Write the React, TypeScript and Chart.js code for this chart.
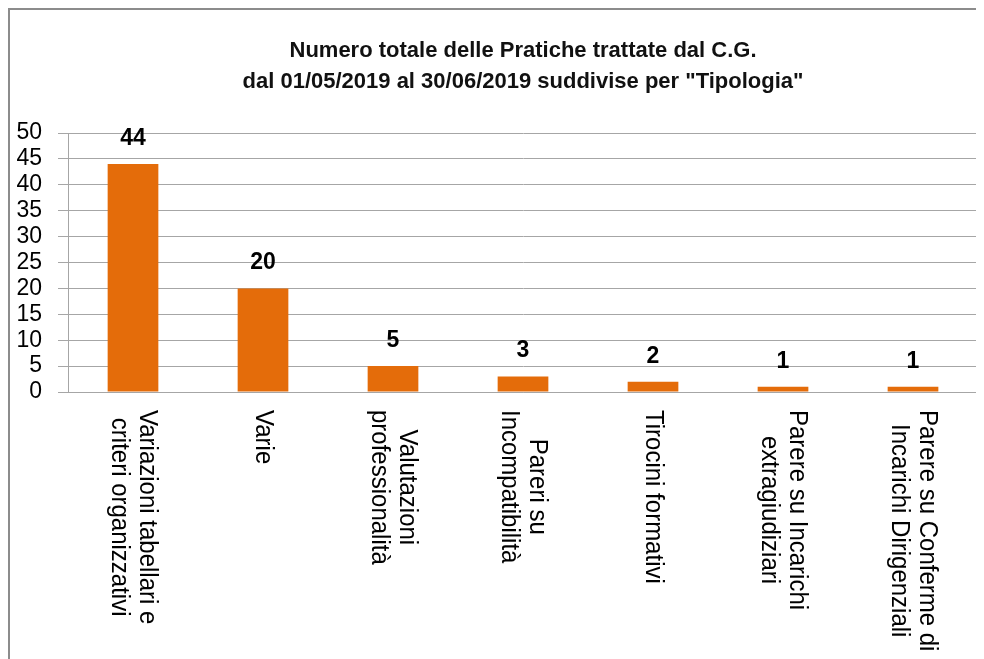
import React, { useEffect, useRef } from "react";
import { Chart, registerables } from "chart.js";

Chart.register(...registerables);

const categories: string[][] = [
  ["Variazioni tabellari e", "criteri organizzativi"],
  ["Varie"],
  ["Valutazioni", "professionalità"],
  ["Pareri su", "Incompatibilità"],
  ["Tirocini formativi"],
  ["Parere su Incarichi", "extragiudiziari"],
  ["Parere su Conferme di", "Incarichi Dirigenziali"],
];
const values = [44, 20, 5, 3, 2, 1, 1];
const titleLines = [
  "Numero totale delle Pratiche trattate dal C.G.",
  'dal 01/05/2019 al 30/06/2019 suddivise per "Tipologia"',
];
const yMin = 0;
const yMax = 50;
const yStep = 5;

const W = 972;
const H = 649;

export default function App() {
  const ref = useRef<HTMLCanvasElement | null>(null);

  useEffect(() => {
    if (!ref.current) return;

    const customDraw = {
      id: "customDraw",
      afterDraw(chart: any) {
        const ctx = chart.ctx as CanvasRenderingContext2D;
        const area = chart.chartArea;
        const xs = chart.scales.x;
        ctx.save();
        // Title
        ctx.fillStyle = "#111";
        ctx.font = 'bold 22px "Liberation Sans", sans-serif';
        ctx.textAlign = "center";
        ctx.textBaseline = "alphabetic";
        const cx = (area.left + area.right) / 2;
        ctx.fillText(titleLines[0], cx, 47);
        ctx.fillText(titleLines[1], cx, 78);

        // Data labels
        const meta = chart.getDatasetMeta(0);
        ctx.font = 'bold 23px "Liberation Sans", sans-serif';
        ctx.fillStyle = "#000";
        meta.data.forEach((el: any, i: number) => {
          ctx.fillText(String(values[i]), el.x, el.y - 19);
        });

        // Rotated category labels (clockwise)
        ctx.font = '24px "Liberation Sans", sans-serif';
        ctx.textAlign = "center";
        ctx.textBaseline = "middle";
        const stretch = 1.1;
        const lineH = 28;
        const top = area.bottom + 18;
        categories.forEach((lines, i) => {
          const px = xs.getPixelForTick(i);
          const maxW = Math.max(...lines.map((l) => ctx.measureText(l).width));
          const n = lines.length;
          ctx.save();
          ctx.translate(px, top);
          ctx.rotate(Math.PI / 2);
          ctx.scale(1, stretch);
          lines.forEach((l, j) => {
            const dx = (((n - 1) / 2 - j) * lineH) / stretch;
            ctx.fillText(l, maxW / 2, -dx);
          });
          ctx.restore();
        });
        ctx.restore();
      },
    };

    const chart = new Chart(ref.current, {
      type: "bar",
      data: {
        labels: categories.map((c) => c.join(" ")),
        datasets: [
          {
            data: values,
            backgroundColor: "#E46C0A",
            borderWidth: 0,
            barPercentage: 0.39,
            categoryPercentage: 1,
          },
        ],
      },
      options: {
        responsive: false,
        animation: false,
        layout: { padding: { top: 123, right: 4, left: 0, bottom: 0 } },
        plugins: {
          legend: { display: false },
          tooltip: { enabled: false },
          title: { display: false },
        },
        scales: {
          x: {
            ticks: { display: false },
            grid: { display: false },
            border: { display: true, color: "#a6a6a6", width: 1 },
            afterFit(scale: any) {
              scale.height = 267;
            },
          },
          y: {
            min: yMin,
            max: yMax,
            ticks: {
              stepSize: yStep,
              autoSkip: false,
              color: "#000",
              padding: 16,
              font: { family: '"Liberation Sans", sans-serif', size: 23 },
            },
            grid: { color: "#a6a6a6", tickLength: 10, lineWidth: 1 },
            border: { display: true, color: "#a6a6a6", width: 1 },
            afterFit(scale: any) {
              scale.width = 58;
            },
          },
        },
      },
      plugins: [customDraw],
    });

    return () => chart.destroy();
  }, []);

  return (
    <div
      style={{
        width: W,
        height: H,
        borderTop: "2px solid #8c8c8c",
        borderLeft: "2px solid #8c8c8c",
        borderRight: "2px solid #8c8c8c",
        background: "#fff",
      }}
    >
      <canvas ref={ref} width={W} height={H} style={{ display: "block", width: W, height: H }} />
    </div>
  );
}
